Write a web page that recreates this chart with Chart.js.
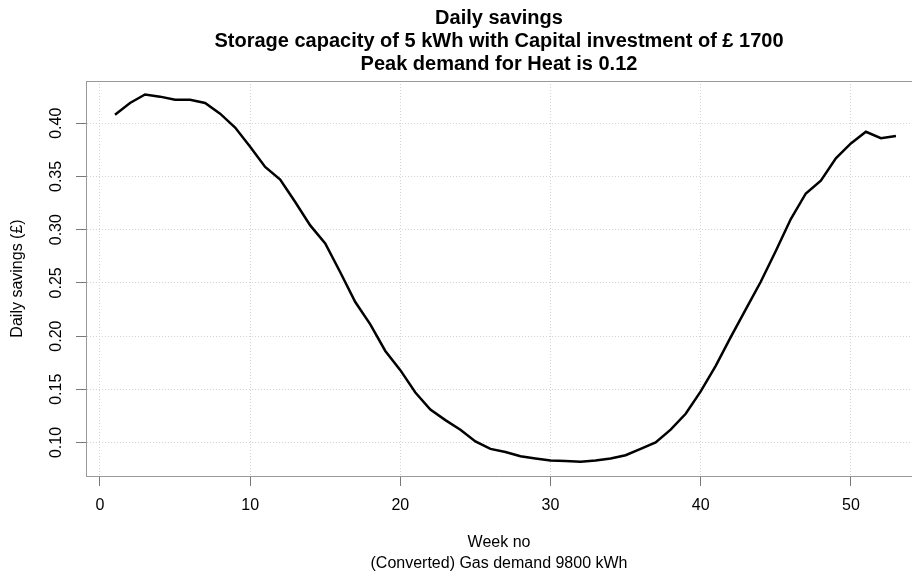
<!DOCTYPE html>
<html><head><meta charset="utf-8">
<script src="https://cdn.jsdelivr.net/npm/chart.js@4/dist/chart.umd.min.js"></script>
<style>html,body{margin:0;padding:0;background:#fff}canvas{display:block}</style>
</head><body>
<canvas id="c" width="912" height="577"></canvas>
<script>
const titleLines = ["Daily savings", "Storage capacity of 5 kWh with Capital investment of £ 1700", "Peak demand for Heat is 0.12"];
const xTitle = ["Week no", "(Converted) Gas demand 9800 kWh"];
const yTitle = "Daily savings (£)";
const weeks = [1,2,3,4,5,6,7,8,9,10,11,12,13,14,15,16,17,18,19,20,21,22,23,24,25,26,27,28,29,30,31,32,33,34,35,36,37,38,39,40,41,42,43,44,45,46,47,48,49,50,51,52,53];
const savings = [0.408,0.419,0.427,0.425,0.422,0.422,0.419,0.409,0.396,0.378,
                 0.359,0.347,0.326,0.304,0.287,0.260,0.232,0.211,0.186,0.168,
                 0.147,0.131,0.121,0.112,0.101,0.094,0.091,0.087,0.085,0.083,
                 0.0825,0.082,0.083,0.085,0.088,0.094,0.100,0.112,0.127,0.148,
                 0.172,0.199,0.225,0.251,0.280,0.310,0.334,0.346,0.367,0.381,
                 0.392,0.386,0.388];
const xTicks = [0,10,20,30,40,50];
const yTicks = [0.10,0.15,0.20,0.25,0.30,0.35,0.40];

Chart.defaults.font.family = "'Liberation Sans', Arial, sans-serif";
Chart.defaults.color = '#000';

const boxTop = {
  id: 'boxTop',
  afterDraw(chart) {
    const a = chart.chartArea, c = chart.ctx;
    c.save();
    c.strokeStyle = '#999'; c.lineWidth = 1;
    c.beginPath(); c.moveTo(a.left, Math.round(a.top) + 0.5); c.lineTo(a.right, Math.round(a.top) + 0.5); c.stroke();
    c.restore();
  }
};

new Chart(document.getElementById('c'), {
  type: 'line',
  data: { datasets: [{
    data: weeks.map((w, i) => ({ x: w, y: savings[i] })),
    borderColor: '#000', borderWidth: 2.5, pointRadius: 0, tension: 0, fill: false
  }]},
  options: {
    responsive: false, animation: false, devicePixelRatio: 1,
    layout: { padding: 0 },
    plugins: {
      legend: { display: false }, tooltip: { enabled: false },
      title: { display: true, text: titleLines, fullSize: false, color: '#000',
        font: { size: 20, weight: 'bold', lineHeight: 23/20 }, padding: { top: 7, bottom: 5 } }
    },
    scales: {
      x: {
        type: 'linear', min: -0.93, max: 54.07,
        afterBuildTicks: s => { s.ticks = xTicks.map(v => ({ value: v })); },
        afterFit: s => { s.height = 101; },
        ticks: { font: { size: 16 }, color: '#000', padding: 10, maxRotation: 0, callback: v => String(v) },
        grid: { color: '#d3d3d3', lineWidth: 1, tickColor: '#777', tickLength: 10, tickBorderDash: [], tickWidth: 1 },
        border: { color: '#999', width: 1, dash: [1, 2] },
        title: { display: true, text: xTitle, color: '#000', font: { size: 16, lineHeight: 1.3125 }, padding: { top: 0, bottom: 2.5 } }
      },
      y: {
        type: 'linear', min: 0.0685, max: 0.4397,
        afterBuildTicks: s => { s.ticks = yTicks.map(v => ({ value: v })); },
        afterFit: s => { s.width = 86; },
        ticks: { font: { size: 16 }, color: '#000', padding: 3.5, minRotation: 90, maxRotation: 90, crossAlign: 'center', callback: v => v.toFixed(2) },
        grid: { color: '#d3d3d3', lineWidth: 1, tickColor: '#777', tickLength: 10, tickBorderDash: [], tickWidth: 1 },
        border: { color: '#999', width: 1, dash: [1, 2] },
        title: { display: true, text: yTitle, color: '#000', font: { size: 16, lineHeight: 1.2 }, padding: { top: 8.4, bottom: 0 } }
      }
    }
  },
  plugins: [boxTop]
});
</script>
</body></html>
